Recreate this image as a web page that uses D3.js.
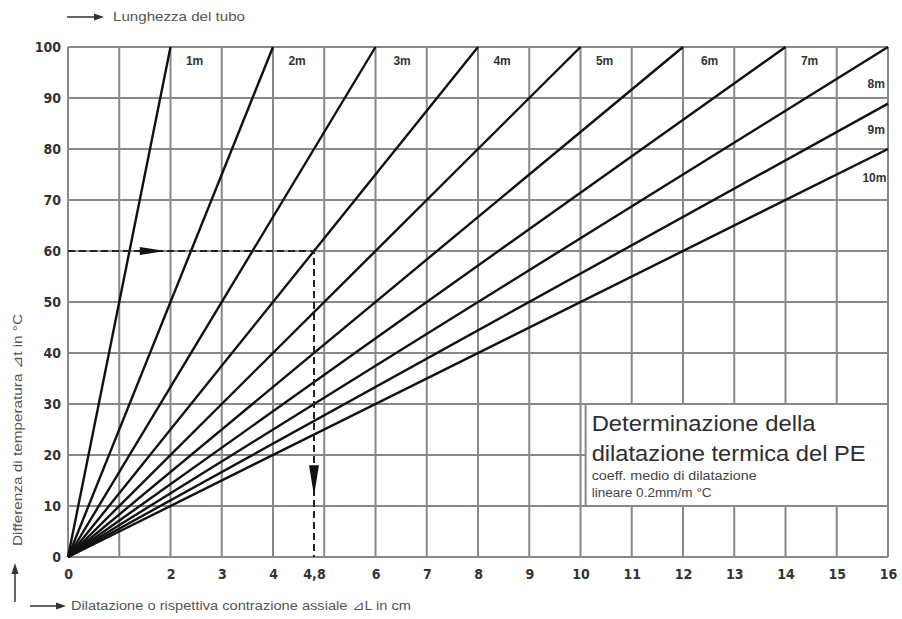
<!DOCTYPE html>
<html>
<head>
<meta charset="utf-8">
<script src="https://cdn.jsdelivr.net/npm/d3@7"></script>
<style>
  body { margin: 0; background: #fff; }
  svg { display: block; }
  .tick text { font-family: "Liberation Sans Narrow", "DejaVu Sans Condensed", sans-serif; font-weight: bold; font-size: 14px; fill: #333; }
</style>
</head>
<body>
<div class="chart"></div>
<script>
// pipe lengths (m) and where each line ends
let lengths = ["1m", "2m", "3m", "4m", "5m", "6m", "7m", "8m", "9m", "10m"];
let endX = [2, 4, 6, 8, 10, 12, 14, 16, 16, 16];
let endY = [100, 100, 100, 100, 100, 100, 100, 100, 88.9, 80];

let xTicks = [0, 2, 3, 4, 4.8, 6, 7, 8, 9, 10, 11, 12, 13, 14, 15, 16];
let xTickLabels = ["0", "2", "3", "4", "4,8", "6", "7", "8", "9", "10", "11", "12", "13", "14", "15", "16"];
let yTicks = [0, 10, 20, 30, 40, 50, 60, 70, 80, 90, 100];

// worked example: 60 °C -> 4,8 cm
let exampleT = 60, exampleL = 4.8;

let width = 902, height = 619;
let margin = {left: 68, right: 14, top: 47, bottom: 62};

let svg = d3.select(".chart")
    .append("svg")
    .attr("width", width)
    .attr("height", height);

let xScale = d3.scaleLinear()
    .domain([0, 16])
    .range([margin.left, width - margin.right]);

let yScale = d3.scaleLinear()
    .domain([0, 100])
    .range([height - margin.bottom, margin.top]);

let grey = "#8c8782";

// grid
svg.append("g").selectAll("line")
    .data(d3.range(0, 17))
    .enter()
    .append("line")
    .attr("x1", d => xScale(d)).attr("x2", d => xScale(d))
    .attr("y1", yScale(0)).attr("y2", yScale(100))
    .attr("stroke", grey).attr("stroke-width", 2);

svg.append("g").selectAll("line")
    .data(yTicks)
    .enter()
    .append("line")
    .attr("y1", d => yScale(d)).attr("y2", d => yScale(d))
    .attr("x1", xScale(0)).attr("x2", xScale(16))
    .attr("stroke", grey).attr("stroke-width", 2);

// axes (labels only)
let xAxis = svg.append("g")
    .attr("transform", "translate(0," + yScale(0) + ")")
    .call(d3.axisBottom(xScale).tickValues(xTicks)
        .tickFormat((d, i) => xTickLabels[i]).tickSize(0).tickPadding(12));
xAxis.select(".domain").remove();

let yAxis = svg.append("g")
    .attr("transform", "translate(" + xScale(0) + ",0)")
    .call(d3.axisLeft(yScale).tickValues(yTicks).tickSize(0).tickPadding(7));
yAxis.select(".domain").remove();

// legend box
svg.append("rect")
    .attr("x", xScale(10.1)).attr("y", yScale(30))
    .attr("width", xScale(16) - xScale(10.1)).attr("height", yScale(10) - yScale(30))
    .attr("fill", "#fff").attr("stroke", grey).attr("stroke-width", 2);

let box = svg.append("g")
    .attr("font-family", "'Liberation Sans', Arial, sans-serif")
    .attr("fill", "#2e2e2e");
let bx = xScale(10.1) + 6, by = yScale(30);
box.append("text").attr("x", bx).attr("y", by + 27)
    .attr("font-size", 22).attr("textLength", 224).attr("lengthAdjust", "spacingAndGlyphs")
    .text("Determinazione della");
box.append("text").attr("x", bx).attr("y", by + 57)
    .attr("font-size", 22).attr("textLength", 274).attr("lengthAdjust", "spacingAndGlyphs")
    .text("dilatazione termica del PE");
box.append("text").attr("x", bx).attr("y", by + 76)
    .attr("font-size", 12).attr("textLength", 165).attr("lengthAdjust", "spacingAndGlyphs")
    .attr("fill", "#444").text("coeff. medio di dilatazione");
box.append("text").attr("x", bx).attr("y", by + 93)
    .attr("font-size", 12).attr("textLength", 120).attr("lengthAdjust", "spacingAndGlyphs")
    .attr("fill", "#444").text("lineare 0.2mm/m °C");

// expansion lines
svg.append("g").selectAll("line")
    .data(lengths)
    .enter()
    .append("line")
    .attr("x1", xScale(0)).attr("y1", yScale(0))
    .attr("x2", (d, i) => xScale(endX[i]))
    .attr("y2", (d, i) => yScale(endY[i]))
    .attr("stroke", "#111").attr("stroke-width", 2.4);

// line labels
let labelX = [2.3, 4.3, 6.35, 8.3, 10.3, 12.35, 14.3, 15.6, 15.6, 15.5];
let labelY = [96.5, 96.5, 96.5, 96.5, 96.5, 96.5, 96.5, 92, 83, 73.5];
svg.append("g").selectAll("text")
    .data(lengths)
    .enter()
    .append("text")
    .attr("x", (d, i) => xScale(labelX[i]))
    .attr("y", (d, i) => yScale(labelY[i]))
    .attr("font-family", "'Liberation Sans Narrow', sans-serif")
    .attr("font-weight", "bold").attr("font-size", 12).attr("fill", "#333")
    .text(d => d);

// worked example dashed lines
svg.append("path")
    .attr("d", d3.line()([[xScale(0), yScale(exampleT)], [xScale(exampleL), yScale(exampleT)], [xScale(exampleL), yScale(0)]]))
    .attr("fill", "none").attr("stroke", "#222").attr("stroke-width", 2)
    .attr("stroke-dasharray", "7,4");

svg.append("path")
    .attr("d", "M" + (xScale(1.4)) + "," + (yScale(exampleT) - 4) + "L" + xScale(1.9) + "," + yScale(exampleT) +
        "L" + xScale(1.4) + "," + (yScale(exampleT) + 4) + "Z")
    .attr("fill", "#111");
svg.append("path")
    .attr("d", "M" + (xScale(exampleL) - 5) + "," + yScale(18) + "L" + xScale(exampleL) + "," + yScale(12) +
        "L" + (xScale(exampleL) + 5) + "," + yScale(18) + "Z")
    .attr("fill", "#111");

// axis titles
let titleFont = "'Liberation Sans', Arial, sans-serif";
svg.append("line").attr("x1", 67).attr("x2", 96).attr("y1", 17).attr("y2", 17)
    .attr("stroke", "#333").attr("stroke-width", 1.5);
svg.append("path").attr("d", "M94,13.5L104,17L94,20.5Z").attr("fill", "#333");
svg.append("text").attr("x", 113).attr("y", 21)
    .attr("font-family", titleFont).attr("font-size", 13).attr("fill", "#555")
    .attr("textLength", 132).attr("lengthAdjust", "spacingAndGlyphs")
    .text("Lunghezza del tubo");

svg.append("line").attr("x1", 30).attr("x2", 58).attr("y1", 606).attr("y2", 606)
    .attr("stroke", "#333").attr("stroke-width", 1.5);
svg.append("path").attr("d", "M56,602.5L66,606L56,609.5Z").attr("fill", "#333");
svg.append("text").attr("x", 71).attr("y", 610)
    .attr("font-family", titleFont).attr("font-size", 12.5).attr("fill", "#555")
    .attr("textLength", 340).attr("lengthAdjust", "spacingAndGlyphs")
    .text("Dilatazione o rispettiva contrazione assiale ⊿L in cm");

svg.append("line").attr("x1", 15).attr("x2", 15).attr("y1", 602).attr("y2", 572)
    .attr("stroke", "#333").attr("stroke-width", 1.5);
svg.append("path").attr("d", "M11.5,574L15,563L18.5,574Z").attr("fill", "#333");
svg.append("text")
    .attr("transform", "translate(22,546) rotate(-90)")
    .attr("font-family", titleFont).attr("font-size", 12.5).attr("fill", "#555")
    .attr("textLength", 232).attr("lengthAdjust", "spacingAndGlyphs")
    .text("Differenza di temperatura ⊿t in °C");
</script>
</body>
</html>
